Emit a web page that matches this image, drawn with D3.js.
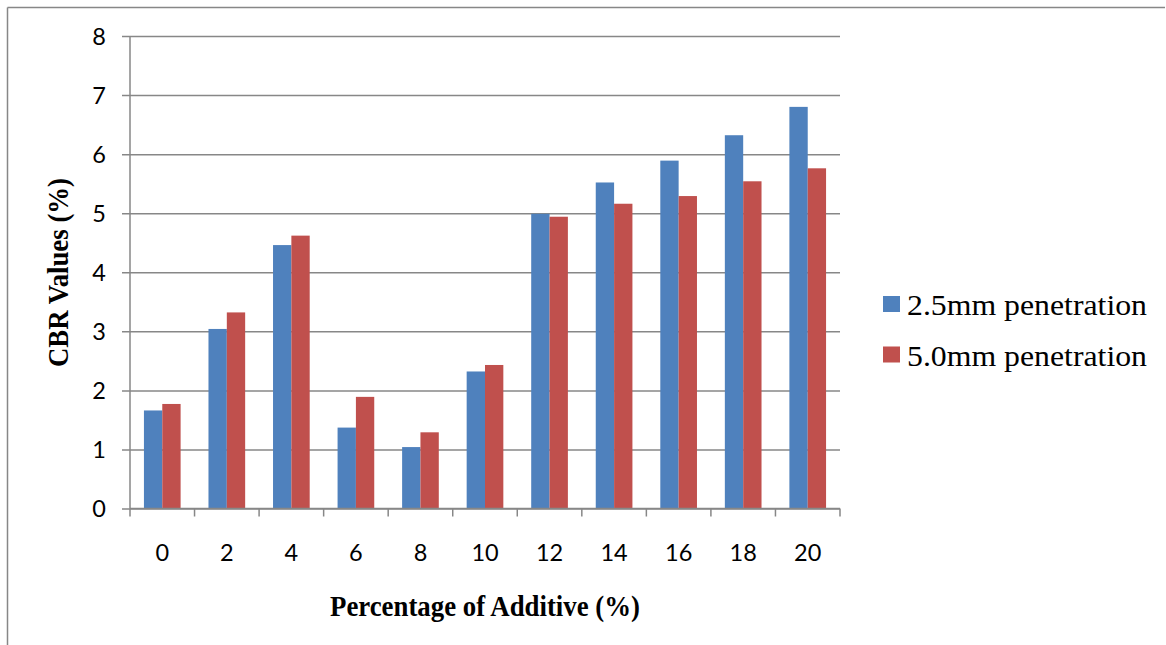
<!DOCTYPE html>
<html>
<head>
<meta charset="utf-8">
<script src="https://cdn.jsdelivr.net/npm/d3@7"></script>
<style>
  html, body { margin: 0; padding: 0; background: #fff; }
  svg { display: block; }
</style>
</head>
<body>
<svg id="chart" width="1166" height="645"></svg>
<script>
const categories = ["0", "2", "4", "6", "8", "10", "12", "14", "16", "18", "20"];
const seriesNames = ["2.5mm penetration", "5.0mm penetration"];
const values25 = [1.66, 3.04, 4.46, 1.37, 1.04, 2.32, 4.99, 5.52, 5.89, 6.32, 6.80];
const values50 = [1.77, 3.32, 4.62, 1.89, 1.29, 2.43, 4.94, 5.16, 5.29, 5.54, 5.76];
const yTicks = [0, 1, 2, 3, 4, 5, 6, 7, 8];
const colors = ["#4F81BD", "#C0504D"];
const seriesValues = [values25, values50];

(function () {
const svg = d3.select("#chart");
const grid = "#878787";

// outer frame (top and left edges visible)
svg.append("line").attr("x1", 7.5).attr("y1", 7.5).attr("x2", 1165).attr("y2", 7.5)
  .attr("stroke", grid).attr("stroke-width", 1.5);
svg.append("line").attr("x1", 7.5).attr("y1", 7.5).attr("x2", 7.5).attr("y2", 645)
  .attr("stroke", grid).attr("stroke-width", 1.5);

const pL = 130, pR = 840, pT = 36, pB = 508.5;

const x0 = d3.scaleBand().domain(categories).range([pL, pR]).padding(0);
const x1 = d3.scaleBand().domain(seriesNames).range([0, x0.bandwidth()])
  .paddingInner(0).paddingOuter(0.76);
const y = d3.scaleLinear().domain([0, 8]).range([pB, pT]);

const tickFont = "Lato, 'Open Sans', sans-serif";

// gridlines + y ticks
const yAxis = d3.axisLeft(y).tickValues(yTicks).tickSize(8).tickPadding(16)
  .tickFormat(d3.format("d"));
const gy = svg.append("g").attr("transform", `translate(${pL},0)`).call(yAxis);
gy.select(".domain").remove();
gy.selectAll(".tick line").attr("stroke", grid).attr("stroke-width", 1.5)
  .attr("x2", -8).attr("x1", pR - pL);
gy.selectAll(".tick text").attr("font-family", tickFont)
  .attr("font-size", 23.5).attr("fill", "#000").attr("dy", "0.36em");

// bars
const groups = svg.append("g").selectAll("g")
  .data(categories.map((c, i) => ({ c, i })))
  .join("g")
  .attr("transform", d => `translate(${x0(d.c)},0)`);
groups.selectAll("rect")
  .data(d => seriesNames.map((s, k) => ({ s, k, v: seriesValues[k][d.i] })))
  .join("rect")
  .attr("x", d => x1(d.s))
  .attr("width", x1.bandwidth())
  .attr("y", d => y(d.v))
  .attr("height", d => y(0) - y(d.v))
  .attr("fill", d => colors[d.k]);

// y axis line
svg.append("line").attr("x1", pL).attr("x2", pL).attr("y1", pT).attr("y2", pB)
  .attr("stroke", grid).attr("stroke-width", 1.5);

// x axis
const xAxis = d3.axisBottom(x0).tickSize(0).tickPadding(0);
const gx = svg.append("g").attr("transform", `translate(0,${pB})`).call(xAxis);
gx.select(".domain").attr("stroke", grid).attr("stroke-width", 1.5)
  .attr("d", `M${pL},0H${pR}`);
gx.selectAll(".tick text").attr("font-family", tickFont)
  .attr("font-size", 23.5).attr("fill", "#000").attr("y", 52).attr("dy", 0);
// boundary tick marks
const bounds = categories.map(c => x0(c)).concat([x0(categories[categories.length - 1]) + x0.bandwidth()]);
gx.selectAll(".btick").data(bounds).join("line").attr("class", "btick")
  .attr("x1", d => d).attr("x2", d => d).attr("y1", 0).attr("y2", 8)
  .attr("stroke", grid).attr("stroke-width", 1.5);

// axis titles
svg.append("text").text("Percentage of Additive (%)")
  .attr("x", 330).attr("y", 616)
  .attr("font-family", "'Liberation Serif', 'Times New Roman', serif")
  .attr("font-weight", "bold").attr("font-size", 30)
  .attr("textLength", 310).attr("lengthAdjust", "spacingAndGlyphs");

svg.append("text").text("CBR Values (%)")
  .attr("transform", "translate(68,367) rotate(-90)")
  .attr("font-family", "'Liberation Serif', 'Times New Roman', serif")
  .attr("font-weight", "bold").attr("font-size", 30)
  .attr("textLength", 189).attr("lengthAdjust", "spacingAndGlyphs");

// legend
const legend = svg.append("g").selectAll("g").data(seriesNames).join("g")
  .attr("transform", (d, i) => `translate(883,${296 + i * 50.5})`);
legend.append("rect").attr("width", 17).attr("height", 16)
  .attr("fill", (d, i) => colors[i]);
legend.append("text").text(d => d)
  .attr("x", 24).attr("y", 19)
  .attr("font-family", "'Liberation Serif', 'Times New Roman', serif")
  .attr("font-size", 30).attr("fill", "#000")
  .attr("textLength", 240).attr("lengthAdjust", "spacingAndGlyphs");
})();
</script>
</body>
</html>
